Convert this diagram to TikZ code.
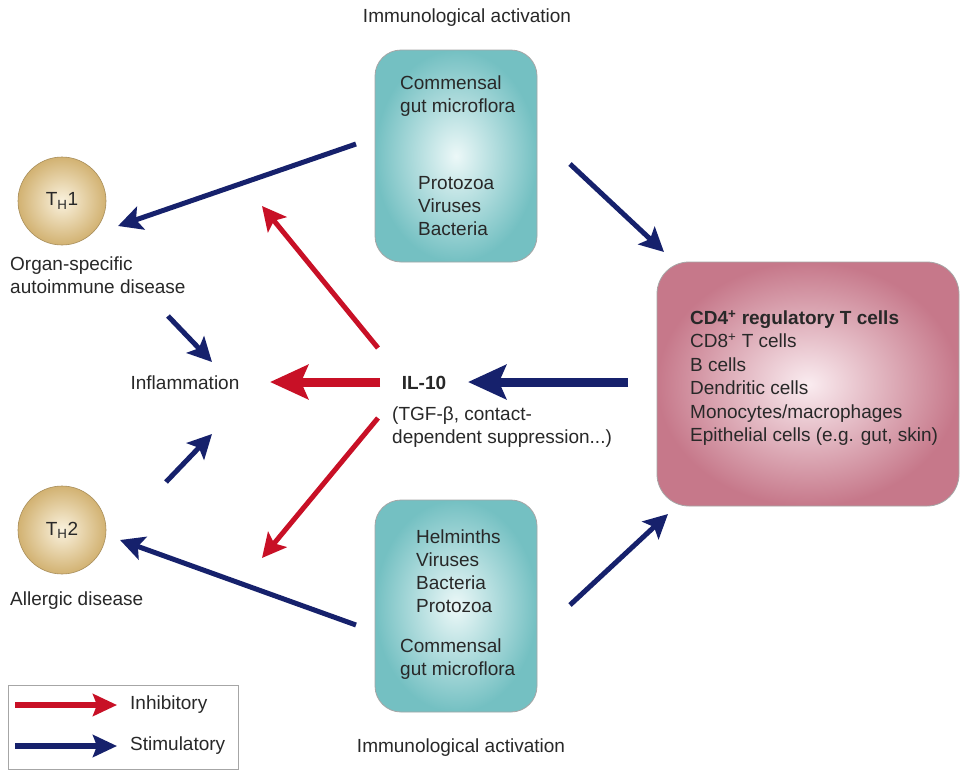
\documentclass[tikz,border=0pt]{standalone}
\usepackage{fontspec}
\setmainfont{Liberation Sans}
\usetikzlibrary{arrows.meta,shapes.geometric}
\definecolor{navy}{RGB}{22,33,108}
\definecolor{redarr}{RGB}{200,16,38}
\definecolor{txt}{RGB}{40,40,40}
\definecolor{tealout}{RGB}{116,192,194}
\definecolor{tealin}{RGB}{236,248,248}
\definecolor{pinkout}{RGB}{198,120,138}
\definecolor{pinkin}{RGB}{250,236,240}
\definecolor{beigeout}{RGB}{210,178,114}
\definecolor{beigein}{RGB}{250,242,222}
\tikzset{
  lbl/.style={font=\fontsize{19}{23}\selectfont, text=txt, inner sep=0pt},
  tealbox/.style={draw=gray!70, line width=0.8pt, rounded corners=26pt, inner color=tealin, outer color=tealout},
  pinkbox/.style={draw=gray!70, line width=0.8pt, rounded corners=32pt, inner color=pinkin, outer color=pinkout},
  cell/.style={circle, draw=beigeout!80!black, line width=0.6pt, minimum size=88pt, inner color=beigein, outer color=beigeout, font=\fontsize{19}{22}\selectfont, text=txt},
  stim/.style={navy, line width=5pt, -{Stealth[length=24pt,width=24pt,inset=5pt]}},
  inhib/.style={redarr, line width=5pt, -{Stealth[length=24pt,width=24pt,inset=5pt]}},
  stimthick/.style={navy, line width=9pt, -{Stealth[length=38pt,width=34pt,inset=7pt]}},
  inhibthick/.style={redarr, line width=9pt, -{Stealth[length=38pt,width=34pt,inset=7pt]}},
  legstim/.style={navy, line width=6pt, -{Stealth[length=24pt,width=22pt,inset=4pt]}},
  leginhib/.style={redarr, line width=6pt, -{Stealth[length=24pt,width=22pt,inset=4pt]}},
}
\begin{document}
\begin{tikzpicture}[x=1pt,y=-1pt]
\useasboundingbox (0,0) rectangle (961,769);
\fill[white] (0,0) rectangle (961,769);

% titles
\node[lbl] (toptitle) at (467,18) {Immunological activation};
\node[lbl] (bottitle) at (461,748) {Immunological activation};

% top teal box
\node[tealbox, minimum width=162pt, minimum height=212pt] (topbox) at (456,156) {};
\node[lbl, anchor=west, align=left] (topA) at (400,96) {Commensal\\gut microflora};
\node[lbl, anchor=west, align=left] (topB) at (418,206) {Protozoa\\Viruses\\Bacteria};

% bottom teal box
\node[tealbox, minimum width=162pt, minimum height=212pt] (botbox) at (456,606) {};
\node[lbl, anchor=west, align=left] (botA) at (416,571) {Helminths\\Viruses\\Bacteria\\Protozoa};
\node[lbl, anchor=west, align=left] (botB) at (400,659) {Commensal\\gut microflora};

% pink box
\node[pinkbox, minimum width=302pt, minimum height=244pt] (pink) at (808,384) {};
\node[lbl, anchor=west, align=left, font=\fontsize{19}{23.5}\selectfont] (pinktext) at (690,378)
 {\textbf{CD4\textsuperscript{+} regulatory T cells}\\CD8\textsuperscript{+} T cells\\B cells\\Dendritic cells\\Monocytes/macrophages\\Epithelial cells (e.g. gut, skin)};

% cells
\node[cell] (th1) at (62,201) {T\textsubscript{H}1};
\node[cell] (th2) at (62,530) {T\textsubscript{H}2};
\node[lbl, anchor=north west, align=left] (organ) at (10,257) {Organ-specific\\autoimmune disease};
\node[lbl, anchor=west] (allergic) at (10,601) {Allergic disease};

\node[lbl] (inflam) at (185,383) {Inflammation};
\node[lbl, font=\fontsize{19}{23}\selectfont\bfseries] (il10) at (424,383) {IL-10};
\node[lbl, anchor=north west, align=left] (tgf) at (392,407) {(TGF-β, contact-\\dependent suppression...)};

% arrow end points
\coordinate (a1s) at (356,144); \coordinate (a1e) at (118,226);
\coordinate (a2s) at (570,164); \coordinate (a2e) at (664,252);
\coordinate (r1s) at (378,348); \coordinate (r1e) at (262,206);
\coordinate (r2s) at (380,382); \coordinate (r2e) at (270,382);
\coordinate (r3s) at (378,418); \coordinate (r3e) at (262,558);
\coordinate (b1s) at (628,382); \coordinate (b1e) at (468,382);
\coordinate (a3s) at (356,625); \coordinate (a3e) at (120,540);
\coordinate (a4s) at (570,605); \coordinate (a4e) at (668,514);
\coordinate (s1s) at (168,316); \coordinate (s1e) at (212,362);
\coordinate (s2s) at (166,482); \coordinate (s2e) at (212,434);

\draw[stim] (a1s) -- (a1e);
\draw[stim] (a2s) -- (a2e);
\draw[inhib] (r1s) -- (r1e);
\draw[inhibthick] (r2s) -- (r2e);
\draw[inhib] (r3s) -- (r3e);
\draw[stimthick] (b1s) -- (b1e);
\draw[stim] (a3s) -- (a3e);
\draw[stim] (a4s) -- (a4e);
\draw[stim] (s1s) -- (s1e);
\draw[stim] (s2s) -- (s2e);

% legend
\node[draw=gray!70, line width=0.8pt, minimum width=230pt, minimum height=84pt, inner sep=0pt] (legend) at (123,727.5) {};
\coordinate (l1s) at (15,705); \coordinate (l1e) at (117,705);
\coordinate (l2s) at (15,746); \coordinate (l2e) at (117,746);
\draw[leginhib] (l1s) -- (l1e);
\draw[legstim] (l2s) -- (l2e);
\node[lbl, anchor=west] (linh) at (130,705) {Inhibitory};
\node[lbl, anchor=west] (lsti) at (130,746) {Stimulatory};
\end{tikzpicture}
\end{document}
